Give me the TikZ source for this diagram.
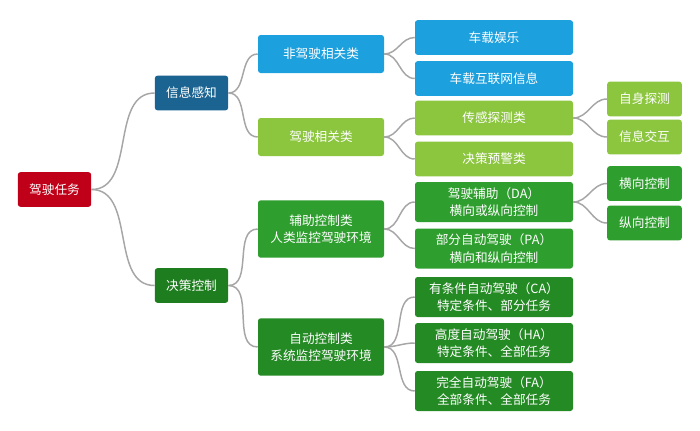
\documentclass[tikz,border=0pt]{standalone}
\usepackage{fontspec}
\newfontfamily\cjk{Noto Sans CJK SC}
\begin{document}
\begin{tikzpicture}[x=0.75pt,y=-0.75pt,
 box/.style={rounded corners=2pt,text=white,font=\cjk\fontsize{9.5pt}{13pt}\selectfont,align=center,inner sep=1pt},
 w1/.style={box,minimum width=55pt,minimum height=26pt},
 w2/.style={box,minimum width=94.5pt,minimum height=28.5pt},
 w3/.style={box,minimum width=118.5pt,minimum height=26pt},
 w4/.style={box,minimum width=56pt,minimum height=26pt},
 link/.style={draw=black!35,line width=1.1pt}]
\definecolor{cred}{HTML}{C00018}
\definecolor{cdblue}{HTML}{1B6391}
\definecolor{cdgreen}{HTML}{1E7D1E}
\definecolor{cblue}{HTML}{1CA0DE}
\definecolor{clgreen}{HTML}{8CC63F}
\definecolor{cgreen}{HTML}{2E9E2E}
\definecolor{cmgreen}{HTML}{248A24}
\useasboundingbox[fill=white] (0,0) rectangle (700,430);
\node[w1,fill=cred] (root) at (54.5,189.5) {驾驶任务};
\node[w1,fill=cdblue] (info) at (191.5,93) {信息感知};
\node[w1,fill=cdgreen] (dec) at (191.5,285.5) {决策控制};
\node[w2,fill=cblue] (nd) at (321,54) {非驾驶相关类};
\node[w2,fill=clgreen] (dr) at (321,137) {驾驶相关类};
\node[w2,fill=cgreen,minimum height=43pt] (ac) at (321,229) {辅助控制类\\人类监控驾驶环境};
\node[w2,fill=cmgreen,minimum height=43pt] (au) at (321,347) {自动控制类\\系统监控驾驶环境};
\node[w3,fill=cblue] (e1) at (494,37.5) {车载娱乐};
\node[w3,fill=cblue] (e2) at (494,78.5) {车载互联网信息};
\node[w3,fill=clgreen] (s1) at (494,118) {传感探测类};
\node[w3,fill=clgreen] (s2) at (494,159) {决策预警类};
\node[w3,fill=cgreen,minimum height=30pt] (da) at (494,202) {驾驶辅助（DA）\\横向或纵向控制};
\node[w3,fill=cgreen,minimum height=30pt] (pa) at (494,248.5) {部分自动驾驶（PA）\\横向和纵向控制};
\node[w3,fill=cmgreen,minimum height=30pt] (ca) at (494,297) {有条件自动驾驶（CA）\\特定条件、部分任务};
\node[w3,fill=cmgreen,minimum height=30pt] (ha) at (494,343) {高度自动驾驶（HA）\\特定条件、全部任务};
\node[w3,fill=cmgreen,minimum height=30pt] (fa) at (494,391) {完全自动驾驶（FA）\\全部条件、全部任务};
\node[w4,fill=clgreen] (t1) at (644.5,99) {自身探测};
\node[w4,fill=clgreen] (t2) at (644.5,137) {信息交互};
\node[w4,fill=cgreen] (h1) at (644.5,183.5) {横向控制};
\node[w4,fill=cgreen] (h2) at (644.5,223) {纵向控制};
\foreach \a/\b in {root/info,root/dec,info/nd,info/dr,dec/ac,dec/au,nd/e1,nd/e2,dr/s1,dr/s2,ac/da,ac/pa,au/ca,au/ha,au/fa,s1/t1,s1/t2,da/h1,da/h2}
  \draw[link] (\a.east) to[out=0,in=180] (\b.west);
\end{tikzpicture}
\end{document}
